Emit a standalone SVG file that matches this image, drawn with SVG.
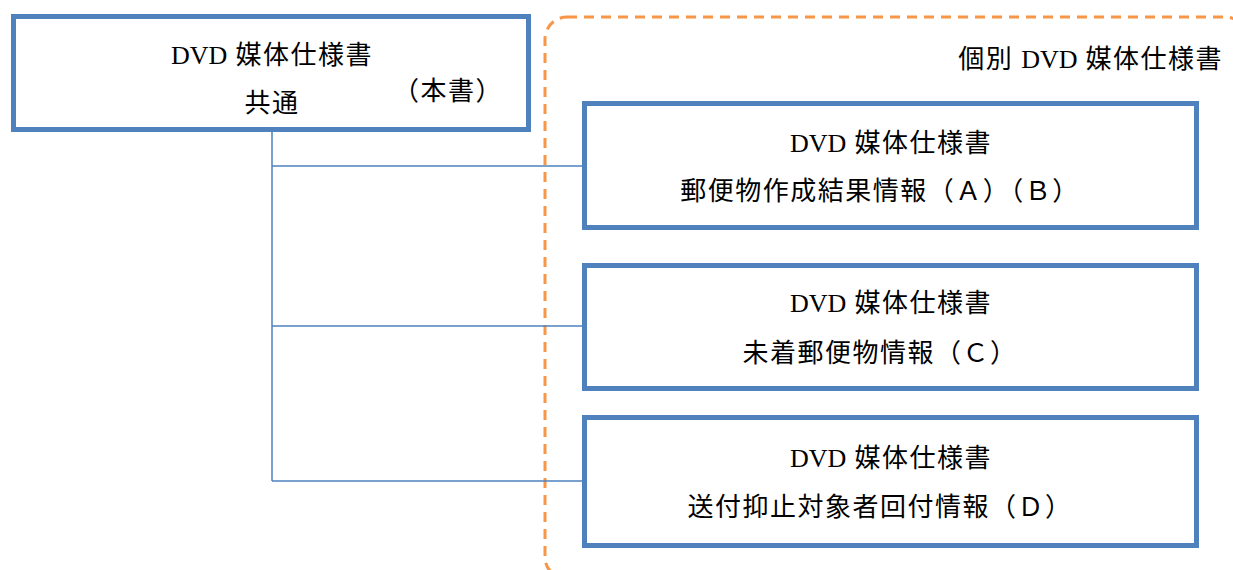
<svg xmlns="http://www.w3.org/2000/svg" width="1233" height="570" viewBox="0 0 1233 570">
<style>
.box{fill:#fff;stroke:#4F81BD;stroke-width:5}
.conn{fill:none;stroke:#4F81BD;stroke-width:1.5}
.grp{fill:none;stroke:#F79646;stroke-width:3;stroke-dasharray:10 7}
text{font-family:"Liberation Serif","Noto Sans CJK JP",serif;font-size:26px;letter-spacing:1.5px;fill:#000}
.lat{letter-spacing:0}
.c{text-anchor:middle}
</style>
<rect width="1233" height="570" fill="#fff"/>
<g id="group-individual">
<rect class="grp" x="545" y="17" width="702" height="562" rx="22" ry="22"/>
<text x="1223" y="68" text-anchor="end">個別 <tspan class="lat">DVD</tspan> 媒体仕様書</text>
</g>
<g id="connectors">
<path class="conn" d="M272 132V481M272 166H584M272 326H584M272 481H584"/>
</g>
<g id="node-common">
<rect class="box" x="13.5" y="16.5" width="515" height="113"/>
<text class="c" x="272" y="64"><tspan class="lat">DVD</tspan> 媒体仕様書</text>
<text class="c" x="272" y="112">共通</text>
<text x="503" y="100" text-anchor="end">（本書）</text>
</g>
<g id="node-ab">
<rect class="box" x="584.5" y="103.5" width="612" height="124"/>
<text class="c" x="891" y="152"><tspan class="lat">DVD</tspan> 媒体仕様書</text>
<text class="c" x="880" y="200">郵便物作成結果情報（Ａ）（Ｂ）</text>
</g>
<g id="node-c">
<rect class="box" x="584.5" y="265.5" width="612" height="123"/>
<text class="c" x="891" y="312"><tspan class="lat">DVD</tspan> 媒体仕様書</text>
<text class="c" x="880" y="362">未着郵便物情報（Ｃ）</text>
</g>
<g id="node-d">
<rect class="box" x="584.5" y="417.5" width="612" height="128"/>
<text class="c" x="891" y="467"><tspan class="lat">DVD</tspan> 媒体仕様書</text>
<text class="c" x="880" y="516">送付抑止対象者回付情報（Ｄ）</text>
</g>
</svg>
